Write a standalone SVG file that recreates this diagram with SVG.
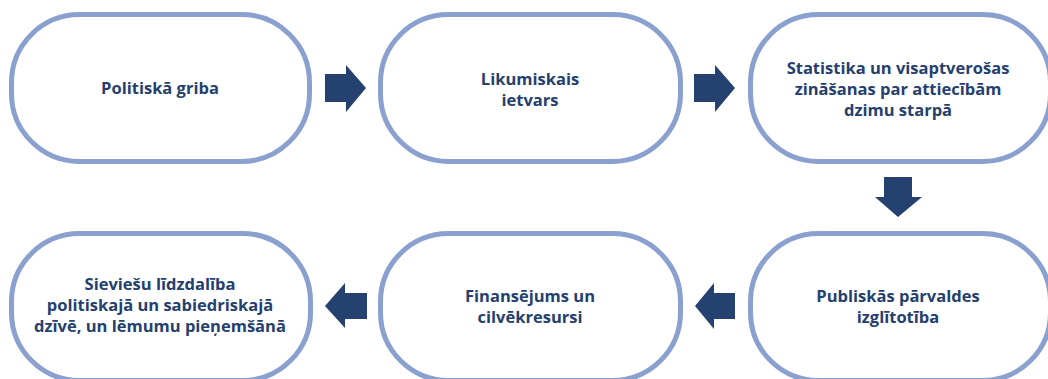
<svg xmlns="http://www.w3.org/2000/svg" width="1048" height="379" viewBox="0 0 1048 379">
<style>
.box{fill:#fff;stroke:#8aa0cf;stroke-width:5}
.t{font-family:"Open Sans",Lato,"Liberation Sans",sans-serif;font-weight:bold;font-size:16.5px;fill:#24406e;text-anchor:middle}
.arr{fill:#24416f}
</style>
<rect width="1048" height="379" fill="#fff"/>
<g id="n1"><rect class="box" x="11.5" y="14.5" width="298" height="147" rx="68"/><text class="t" x="160" y="94">Politiskā griba</text></g>
<g id="n2"><rect class="box" x="380.5" y="14.5" width="300" height="147" rx="68"/><text class="t" x="530" y="85">Likumiskais</text><text class="t" x="530" y="106">ietvars</text></g>
<g id="n3"><rect class="box" x="750.5" y="14.5" width="300" height="147" rx="68"/><text class="t" x="898" y="74">Statistika un visaptverošas</text><text class="t" x="898" y="95">zināšanas par attiecībām</text><text class="t" x="898" y="116">dzimu starpā</text></g>
<g id="n4"><rect class="box" x="750.5" y="233.5" width="300" height="147" rx="68"/><text class="t" x="898" y="302">Publiskās pārvaldes</text><text class="t" x="898" y="323">izglītotība</text></g>
<g id="n5"><rect class="box" x="380.5" y="233.5" width="300" height="147" rx="68"/><text class="t" x="530" y="302">Finansējums un</text><text class="t" x="530" y="323">cilvēkresursi</text></g>
<g id="n6"><rect class="box" x="11.5" y="233.5" width="299" height="147" rx="68"/><text class="t" x="160" y="290">Sieviešu līdzdalība</text><text class="t" x="160" y="311">politiskajā un sabiedriskajā</text><text class="t" x="160" y="332">dzīvē, un lēmumu pieņemšānā</text></g>
<g id="connectors">
<polygon class="arr" points="325,74 346,74 346,65 366,88 346,112 346,102 325,102"/>
<polygon class="arr" points="694,74 715,74 715,65 735,88 715,112 715,102 694,102"/>
<polygon class="arr" points="884,177 912,177 912,197 922,197 898,217 875,197 884,197"/>
<polygon class="arr" points="735,293 714,293 714,283 695,306 714,329 714,319 735,319"/>
<polygon class="arr" points="367,293 345,293 345,283 325,306 345,328 345,319 367,319"/>
</g>
</svg>
